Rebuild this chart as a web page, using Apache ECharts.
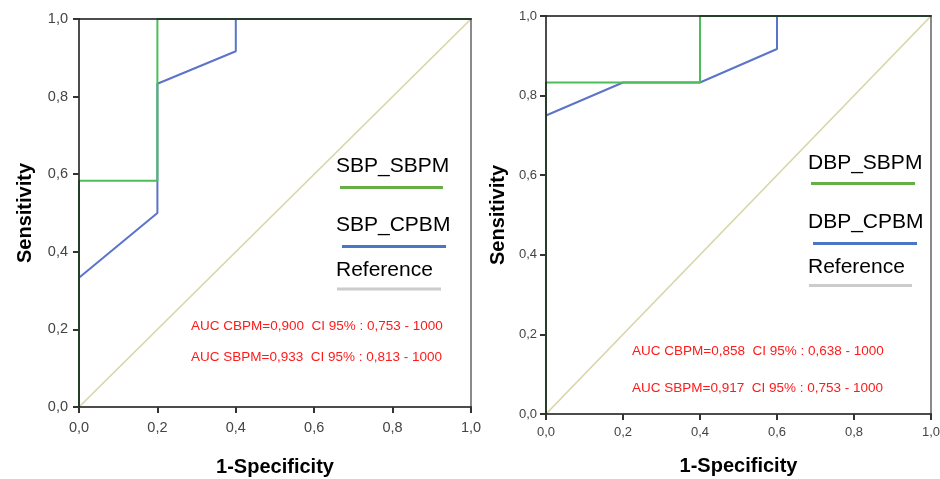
<!DOCTYPE html>
<html>
<head>
<meta charset="utf-8">
<script src="https://cdn.jsdelivr.net/npm/echarts@6/dist/echarts.min.js"></script>
<style>
  html, body { margin: 0; padding: 0; background: #fff; }
  #chart { width: 940px; height: 479px; }
</style>
</head>
<body>
<div id="chart"></div>
<script>
// ROC curves: [1-specificity, sensitivity] steps
const sbpSbpm = [[0, 0], [0, 0.583], [0.2, 0.583], [0.2, 1], [1, 1]];
const sbpCpbm = [[0, 0], [0, 0.333], [0.2, 0.5], [0.2, 0.833], [0.4, 0.917], [0.4, 1], [1, 1]];
const dbpSbpm = [[0, 0], [0, 0.833], [0.4, 0.833], [0.4, 1], [1, 1]];
const dbpCpbm = [[0, 0], [0, 0.75], [0.2, 0.833], [0.4, 0.833], [0.6, 0.917], [0.6, 1], [1, 1]];
const referenceLine = [[0, 0], [1, 1]];

const tickLabels = ['0,0', '0,2', '0,4', '0,6', '0,8', '1,0'];
const leftLegend = ['SBP_SBPM', 'SBP_CPBM', 'Reference'];
const rightLegend = ['DBP_SBPM', 'DBP_CPBM', 'Reference'];
const leftAuc = ['AUC CBPM=0,900  CI 95% : 0,753 - 1000', 'AUC SBPM=0,933  CI 95% : 0,813 - 1000'];
const rightAuc = ['AUC CBPM=0,858  CI 95% : 0,638 - 1000', 'AUC SBPM=0,917  CI 95% : 0,753 - 1000'];

const FONT = '"Liberation Sans", Arial, Helvetica, sans-serif';
const GREEN = '#4cbd58', BLUE = '#5b74c9', REF = '#d9d5a8';
const LEG_GREEN = '#67ae45', LEG_BLUE = '#4a76c6', LEG_GREY = '#cccccc';
const AXIS_DARK = 'rgba(25,25,25,0.78)';

const fmt = v => tickLabels[Math.round(v / 0.2)];

function mainX(grid, labelSize, labelMargin, nameGap) {
  return {
    type: 'value', gridIndex: grid, min: 0, max: 1, interval: 0.2, z: 3,
    name: '1-Specificity', nameLocation: 'middle', nameGap: nameGap,
    nameTextStyle: { fontFamily: FONT, fontWeight: 'bold', fontSize: 20, color: '#000' },
    axisLine: { show: true, lineStyle: { color: AXIS_DARK, width: 2 } },
    axisTick: { show: true, length: 6, lineStyle: { color: '#333', width: 2 } },
    axisLabel: { formatter: fmt, fontFamily: FONT, fontSize: labelSize, color: '#444', margin: labelMargin },
    splitLine: { show: false }
  };
}
function mainY(grid, labelSize, labelMargin, nameGap) {
  return {
    type: 'value', gridIndex: grid, min: 0, max: 1, interval: 0.2, z: 3,
    name: 'Sensitivity', nameLocation: 'middle', nameGap: nameGap, nameRotate: 90,
    nameTextStyle: { fontFamily: FONT, fontWeight: 'bold', fontSize: 20, color: '#000' },
    axisLine: { show: true, lineStyle: { color: AXIS_DARK, width: 2 } },
    axisTick: { show: true, length: 6, lineStyle: { color: '#333', width: 2 } },
    axisLabel: { formatter: fmt, fontFamily: FONT, fontSize: labelSize, color: '#444', margin: labelMargin },
    splitLine: { show: false }
  };
}
function frameAxis(grid, position, color) {
  return {
    type: 'value', gridIndex: grid, min: 0, max: 1, position: position, z: 3,
    axisLine: { show: true, onZero: false, lineStyle: { color: color, width: 2 } },
    axisTick: { show: false }, axisLabel: { show: false }, splitLine: { show: false }
  };
}

function line(data, color, width, xi, yi, z) {
  return {
    type: 'line', data: data, xAxisIndex: xi, yAxisIndex: yi,
    symbol: 'none', clip: false, z: z, silent: true,
    lineStyle: { color: color, width: width }
  };
}

function legendBlock(labels, textX, textYs, lineX1, lineX2, lineYs) {
  const colors = [LEG_GREEN, LEG_BLUE, LEG_GREY];
  const out = [];
  labels.forEach((t, i) => {
    out.push({
      type: 'text', left: textX, top: textYs[i] - 11,
      style: { text: t, fill: '#000', font: '21px ' + FONT }
    });
    out.push({
      type: 'line',
      shape: { x1: lineX1[i], y1: lineYs[i], x2: lineX2[i], y2: lineYs[i] },
      style: { stroke: colors[i], lineWidth: 3 }
    });
  });
  return out;
}
function aucBlock(lines, x, ys) {
  return lines.map((t, i) => ({
    type: 'text', left: x, top: ys[i] - 7,
    style: { text: t, fill: '#ff1a1a', font: '13.5px ' + FONT }
  }));
}

const chart = echarts.init(document.getElementById('chart'), null, { renderer: 'canvas' });
chart.setOption({
  backgroundColor: '#ffffff',
  animation: false,
  grid: [
    { left: 79, top: 19, width: 392, height: 388, outerBoundsMode: 'none', containLabel: false },
    { left: 546, top: 16, width: 385, height: 398, outerBoundsMode: 'none', containLabel: false }
  ],
  xAxis: [
    mainX(0, 14.5, 13, 50),
    frameAxis(0, 'top', AXIS_DARK),
    mainX(1, 13, 12, 42),
    frameAxis(1, 'top', AXIS_DARK)
  ],
  yAxis: [
    mainY(0, 14.5, 11, 44),
    frameAxis(0, 'right', '#8a8a8a'),
    mainY(1, 13, 9, 38),
    frameAxis(1, 'right', '#8a8a8a')
  ],
  series: [
    line(referenceLine, REF, 1.6, 0, 0, 2),
    line(sbpCpbm, BLUE, 2, 0, 0, 2),
    line(sbpSbpm, GREEN, 2, 0, 0, 2),
    line(referenceLine, REF, 1.6, 2, 2, 2),
    line(dbpCpbm, BLUE, 2, 2, 2, 2),
    line(dbpSbpm, GREEN, 2, 2, 2, 2)
  ],
  graphic: [
    ...legendBlock(leftLegend, 336, [167, 226, 271], [340, 342, 337], [443, 446, 441], [187.5, 246.5, 289]),
    ...legendBlock(rightLegend, 808, [164, 223, 268], [811, 813, 809], [915, 917, 912], [183.5, 243.5, 285.5]),
    ...aucBlock(leftAuc, 191, [326, 357]),
    ...aucBlock(rightAuc, 632, [351, 388])
  ]
});
</script>
</body>
</html>
